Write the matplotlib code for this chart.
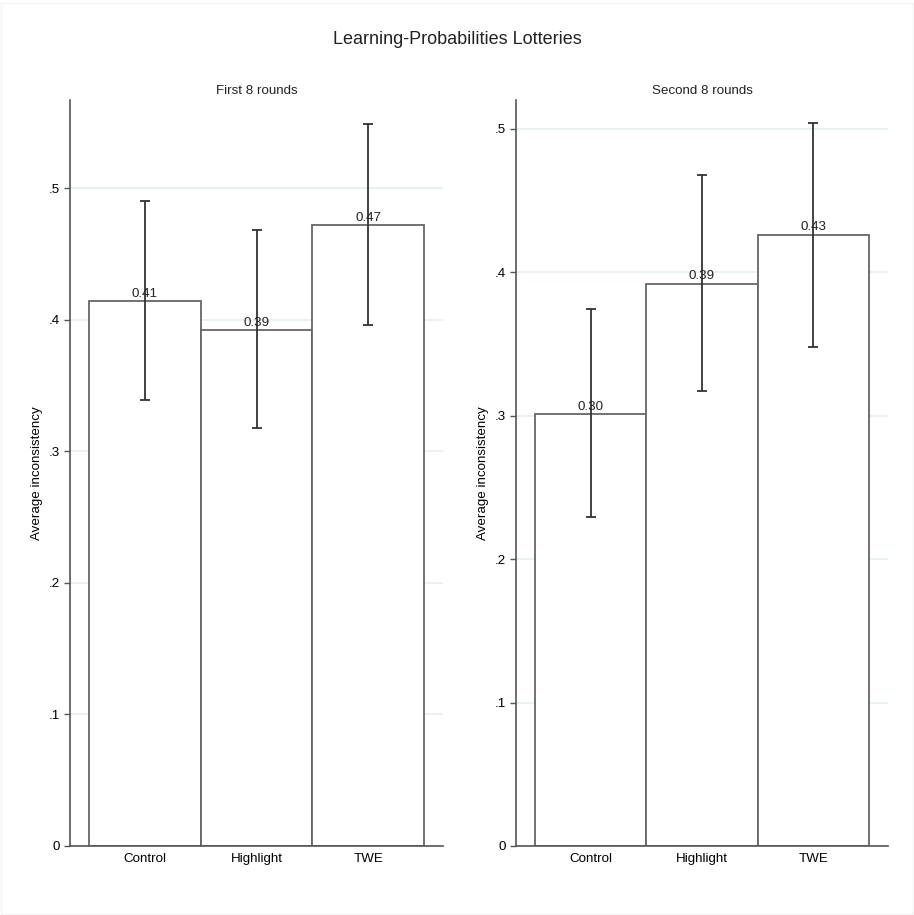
import matplotlib
matplotlib.use("Agg")
import matplotlib.pyplot as plt
from matplotlib.ticker import FuncFormatter
from matplotlib.patches import Rectangle
import numpy as np

plt.rcParams['font.family'] = ['Liberation Sans', 'DejaVu Sans']

categories = ["Control", "Highlight", "TWE"]
panel_titles = ["First 8 rounds", "Second 8 rounds"]

first_means = [0.414, 0.392, 0.472]
first_lo = [0.339, 0.318, 0.396]
first_hi = [0.490, 0.468, 0.549]

second_means = [0.301, 0.392, 0.426]
second_lo = [0.229, 0.317, 0.348]
second_hi = [0.374, 0.468, 0.504]

value_labels_first = ["0.41", "0.39", "0.47"]
value_labels_second = ["0.30", "0.39", "0.43"]

yticks = [0, 0.1, 0.2, 0.3, 0.4, 0.5]
ylims = [0.567, 0.520]

fig = plt.figure(figsize=(9.14, 9.15), dpi=100)
fig.patch.set_facecolor('white')

positions = [
    [70/914, 69/915, 373/914, 746/915],
    [516/914, 69/915, 372/914, 746/915],
]

data = [
    (first_means, first_lo, first_hi, value_labels_first),
    (second_means, second_lo, second_hi, value_labels_second),
]

fmt = FuncFormatter(lambda v, p: "0" if abs(v) < 1e-9 else ("%.1f" % v).lstrip("0"))

fs = 9.6

for i, (pos, (m, lo, hi, labs)) in enumerate(zip(positions, data)):
    ax = fig.add_axes(pos)
    x = np.arange(len(categories))
    m = np.array(m); lo = np.array(lo); hi = np.array(hi)
    ax.bar(x, m, width=1.0, color='white', edgecolor='#666666', linewidth=1.3, zorder=2)
    ax.errorbar(x, m, yerr=[m - lo, hi - m], fmt='none', ecolor='#333333',
                elinewidth=1.3, capsize=3.3, capthick=1.3, zorder=3)
    for xi, mi, lab in zip(x, m, labs):
        ax.text(xi, mi + 0.001, lab, ha='center', va='bottom', fontsize=fs,
                color='#222222', zorder=4)
    ax.set_xlim(-0.67, 2.67)
    ax.set_ylim(0, ylims[i])
    ax.set_yticks(yticks)
    ax.yaxis.set_major_formatter(fmt)
    ax.set_xticks(x)
    ax.set_xticklabels(categories, fontsize=fs)
    ax.tick_params(axis='x', length=0, pad=5)
    ax.tick_params(axis='y', length=4, width=1, color='#555555', labelsize=fs, pad=3)
    ax.grid(axis='y', color='#e8f0f2', linewidth=1.3, zorder=0)
    ax.set_axisbelow(True)
    for s in ['top', 'right']:
        ax.spines[s].set_visible(False)
    for s in ['left', 'bottom']:
        ax.spines[s].set_color('#555555')
        ax.spines[s].set_linewidth(1.2)
    ax.set_ylabel("Average inconsistency", fontsize=fs, labelpad=4)
    ax.set_title(panel_titles[i], fontsize=fs, pad=4, color='#222222')

fig.text(0.5, 1 - 39/915, "Learning-Probabilities Lotteries", ha='center', va='center',
         fontsize=13, color='#222222')

fig.add_artist(Rectangle((0.001, 0.001), 0.998, 0.996, transform=fig.transFigure,
                         fill=False, edgecolor='#f4f4f4', linewidth=1))

fig.savefig("out.png", dpi=100, facecolor='white')
